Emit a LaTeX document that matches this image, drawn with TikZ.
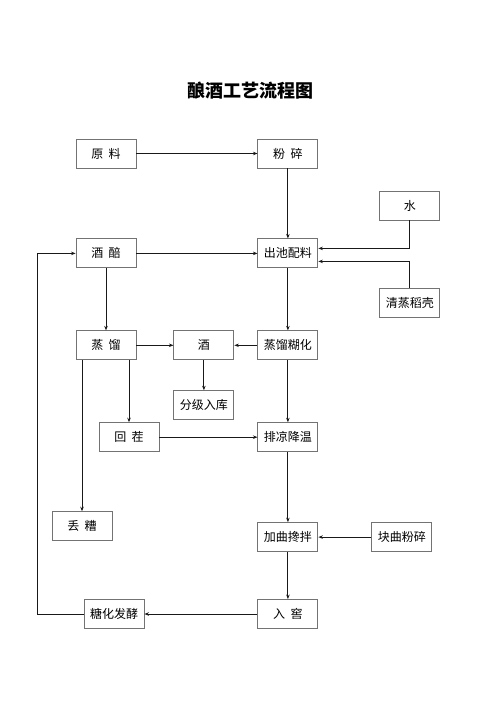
\documentclass[tikz,border=0pt]{standalone}
\usepackage{fontspec}
\setmainfont{Noto Sans CJK SC}
\usetikzlibrary{arrows.meta, positioning}
\newcommand{\gap}{\hspace{0.45em}}

\begin{document}
\begin{tikzpicture}[
  x=1pt, y=1pt,
  box/.style={draw=black!55, line width=0.9pt, minimum width=60pt,
              minimum height=29pt, inner sep=2pt, font=\fontsize{12}{14}\selectfont},
  arr/.style={-{Stealth[length=4.5pt, width=3.5pt]}, line width=1pt, draw=black!90},
  every node/.style={font=\fontsize{12}{14}\selectfont}
]
  \useasboundingbox (0,0) rectangle (500,-708);
  \node[font=\fontsize{18}{20}\selectfont\bfseries] (title) at (250,-91) {酿酒工艺流程图};

  % Boxes -- top rows
  \node[box] (yl) at (106,-153.5) {原\gap 料};
  \node[box, right=121pt of yl] (fs) {粉\gap 碎};
  \node[box, below=70pt of fs] (chu) {出池配料};
  \node[box, left=121pt of chu] (jp) {酒\gap 醅};
  \node[box, above right=18pt and 61pt of chu] (shui) {水};
  \node[box, below right=20pt and 61pt of chu] (qz) {清蒸稻壳};

  % Boxes -- distilling rows
  \node[box, below=62pt of chu] (hh) {蒸馏糊化};
  \node[box, below=62pt of jp] (zl) {蒸\gap 馏};
  \node[box, right=37pt of zl] (jiu) {酒};
  \node[box, below=30pt of jiu] (fj) {分级入库};
  \node[box, below=62pt of hh] (pl) {排凉降温};
  \node[box, left=98pt of pl] (hc) {回\gap 茬};
  \node[box, below=151pt of zl, xshift=-24pt] (dz) {丢\gap 糟};

  % Boxes -- bottom rows
  \node[box, below=70pt of pl] (jq) {加曲搀拌};
  \node[box, right=53pt of jq] (kq) {块曲粉碎};
  \node[box, below=47pt of jq] (ry) {入\gap 窖};
  \node[box, left=113pt of ry] (th) {糖化发酵};

  % Arrows
  \draw[arr] (yl) -- (fs);
  \draw[arr] (fs) -- (chu);
  \draw[arr] (jp) -- (chu);
  \draw[arr] (shui.south) |- ([yshift=5pt]chu.east);
  \draw[arr] (qz.north) |- ([yshift=-8pt]chu.east);
  \draw[arr] (jp) -- (zl);
  \draw[arr] (chu) -- (hh);
  \draw[arr] (zl) -- (jiu);
  \draw[arr] (hh) -- (jiu);
  \draw[arr] (jiu) -- (fj);
  \draw[arr] (zl.south -| hc) -- (hc);
  \draw[arr] (zl.south -| dz) -- (dz);
  \draw[arr] (hc) -- (pl);
  \draw[arr] (hh) -- (pl);
  \draw[arr] (pl) -- (jq);
  \draw[arr] (kq) -- (jq);
  \draw[arr] (jq) -- (ry);
  \draw[arr] (ry) -- (th);
  \draw[arr] (th.west) -- ++(-46pt,0) |- (jp.west);
\end{tikzpicture}
\end{document}
